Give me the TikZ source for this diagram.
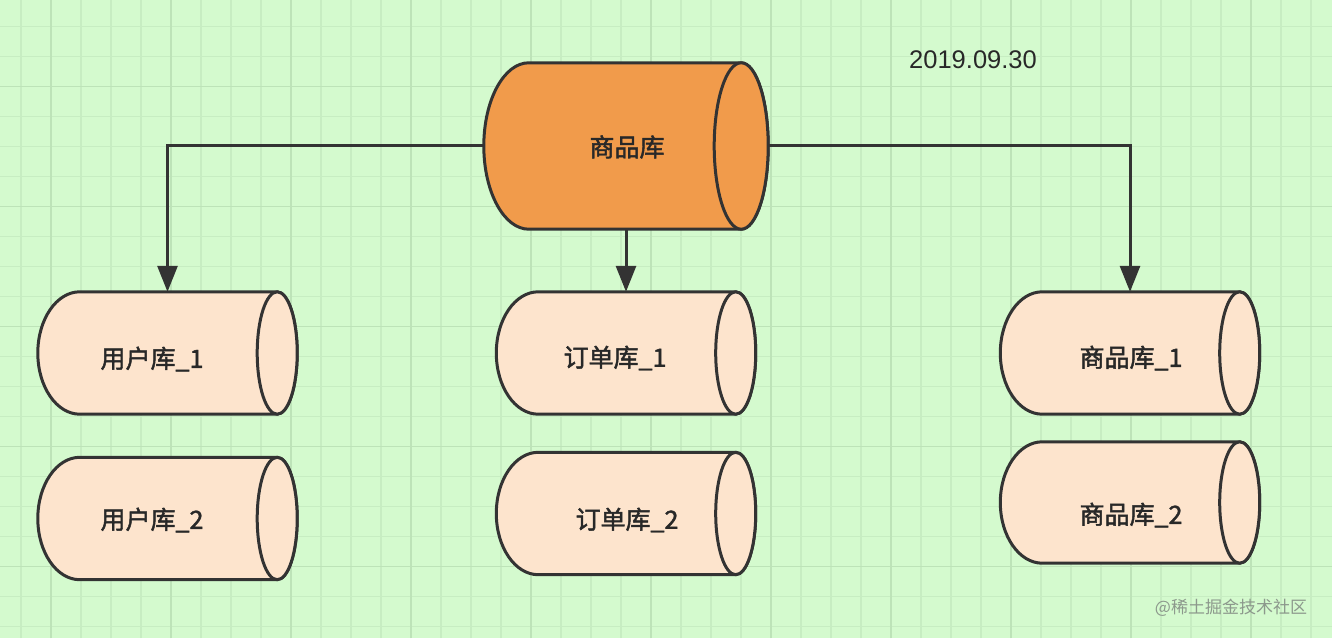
\documentclass[tikz,border=0pt]{standalone}
\usepackage{fontspec}
\newfontfamily\cjk{Noto Sans CJK SC}
\newfontfamily\cjkb[FakeBold=1.8]{Noto Sans CJK SC}
\newfontfamily\lat{Liberation Sans}
\usetikzlibrary{calc,arrows.meta}
\definecolor{bgc}{RGB}{212,250,206}
\definecolor{gridminor}{RGB}{199,237,194}
\definecolor{gridmajor}{RGB}{189,227,184}
\definecolor{edgec}{RGB}{51,51,51}
\definecolor{orangec}{RGB}{241,155,75}
\definecolor{peachc}{RGB}{253,228,205}
\definecolor{txtc}{RGB}{40,40,40}
\definecolor{wmc}{RGB}{140,152,140}
\newcommand\cylshape[4]{%
  \draw[shp, fill=#4] let \p1=(#1.north west), \p2=(#1.south east), \n1={(\y1-\y2)/2} in
    (\x1+#2pt,\y1) -- (\x2-#3pt,\y1)
    arc[start angle=90, end angle=-90, x radius=#3pt, y radius=\n1]
    -- (\x1+#2pt,\y2)
    arc[start angle=270, end angle=90, x radius=#2pt, y radius=\n1] -- cycle;
  \draw[shp, fill=#4] let \p1=(#1.north west), \p2=(#1.south east), \n1={(\y1-\y2)/2} in
    (\x2-#3pt,{(\y1+\y2)/2}) ellipse[x radius=#3pt, y radius=\n1];%
}
\tikzset{
  cylbox/.style={draw=none, rectangle, inner sep=0pt, minimum width=259pt, minimum height=122pt},
  shp/.style={draw=edgec, line width=3pt, line join=round},
  lbl/.style={font=\cjkb\fontsize{25}{30}\selectfont, text=txtc, inner sep=0pt},
  conn/.style={draw=edgec, line width=3pt, -{Triangle[length=26pt,width=20pt]}},
  minorline/.style={draw=gridminor, line width=1.1pt},
  majorline/.style={draw=gridmajor, line width=1.3pt}
}
\begin{document}
\begin{tikzpicture}[x=1pt,y=1pt]
\useasboundingbox (0,0) rectangle (1332,638);
\fill[bgc] (0,0) rectangle (1332,638);
% grid
\foreach \k in {0,...,44} {\draw[minorline] (21+30*\k,0) -- (21+30*\k,638);}
\foreach \k in {0,...,21} {\draw[minorline] (0,611.3-30*\k) -- (1332,611.3-30*\k);}
\foreach \k in {0,...,10} {\draw[majorline] (51+120*\k,0) -- (51+120*\k,638);}
\foreach \k in {0,...,4} {\draw[majorline] (0,551.3-120*\k) -- (1332,551.3-120*\k);}
% cylinder boxes
\node[cylbox, minimum width=284pt, minimum height=166pt] (main) at (626,492) {};
\node[cylbox] (u1) at (167.5,285) {};
\node[cylbox] (u2) at (167.5,119.5) {};
\node[cylbox] (o1) at (626,285) {};
\node[cylbox] (o2) at (626,124.5) {};
\node[cylbox] (p1) at (1130,285) {};
\node[cylbox, minimum height=121pt] (p2) at (1130,135.5) {};
% shapes
\cylshape{main}{45}{27}{orangec}
\cylshape{u1}{42}{20}{peachc}
\cylshape{u2}{42}{20}{peachc}
\cylshape{o1}{42}{20}{peachc}
\cylshape{o2}{42}{20}{peachc}
\cylshape{p1}{42}{20}{peachc}
\cylshape{p2}{42}{20}{peachc}
% labels
\node[lbl] (mainT) at (627,491) {商品库};
\node[lbl] (u1T) at (152,279) {用户库\_1};
\node[lbl] (u2T) at (152,118) {用户库\_2};
\node[lbl] (o1T) at (615,280) {订单库\_1};
\node[lbl] (o2T) at (627,118) {订单库\_2};
\node[lbl] (p1T) at (1131,280) {商品库\_1};
\node[lbl] (p2T) at (1131,123) {商品库\_2};
% connectors
\draw[conn] (main.west) -| (u1.north);
\draw[conn] (main.south) -- (o1.north);
\draw[conn] (main.east) -| (p1.north);
% texts
\node[font=\lat\fontsize{25.5}{30}\selectfont, text=txtc] (date) at (973,578) {2019.09.30};
\node[font=\cjk\fontsize{17}{20}\selectfont, text=wmc] (wm) at (1231,30) {@稀土掘金技术社区};
\end{tikzpicture}
\end{document}
